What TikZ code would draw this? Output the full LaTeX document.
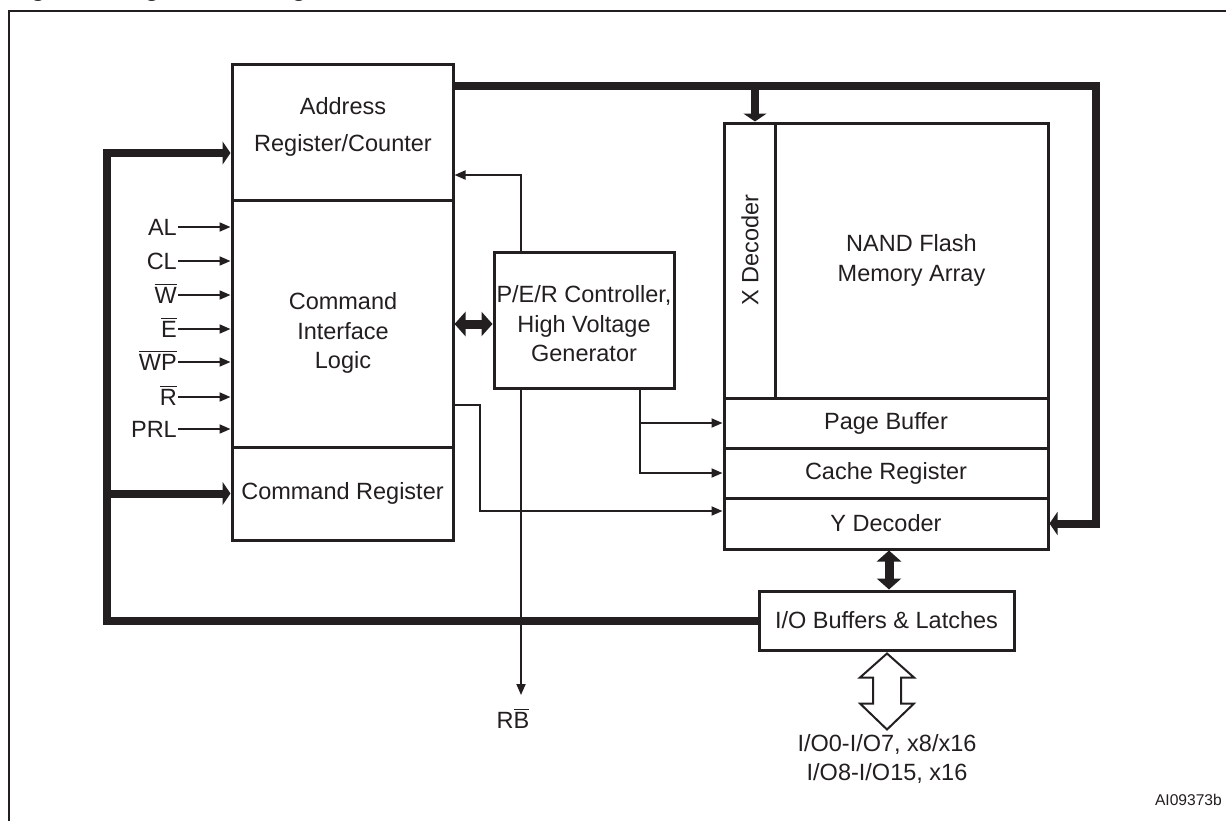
\documentclass[tikz,border=0pt]{standalone}
\usepackage{fontspec}
\setmainfont{Liberation Sans}
\usetikzlibrary{arrows.meta,calc}
\definecolor{ink}{HTML}{231F20}
\newcommand{\obar}[1]{\vbox{\hrule height 1.3pt\kern 2.2pt\hbox{#1}}}
\begin{document}
\begin{tikzpicture}[x=1pt,y=-1pt,
  font=\fontsize{23.5}{29.5}\selectfont,
  every node/.style={text=ink},
  box/.style={draw=ink, line width=3pt, inner sep=0pt, align=center},
  thinarr/.style={draw=ink, line width=1.8pt, -{Triangle[length=11pt,width=9pt]}},
  bus/.style={draw=ink, line width=8pt, line join=miter},
  busarr/.style={bus, -{Triangle[length=8pt,width=23pt]}},
  dblarr/.style={draw=ink, line width=9pt, {Triangle[length=11pt,width=24pt]}-{Triangle[length=11pt,width=24pt]}},
  lbl/.style={inner sep=1pt, text height=17pt, text depth=0pt},
  hollow/.style={draw=ink, line width=2pt, fill=white, line join=miter},
]
\useasboundingbox (0,0) rectangle (1226,820);
\fill[white] (0,0) rectangle (1226,820);

% caption (cut by the page edge, as in the reference)
\node[anchor=base west, font=\fontsize{23.4}{28}\selectfont\bfseries, inner sep=0pt] (cap) at (10,-4) {Figure 2. Logic Block Diagram};

% frame
\draw[ink, line width=2.7pt] (1240,11) -- (9,11) -- (9,830);

% boxes
\node[box, minimum width=221pt, minimum height=136pt] (addr) at (342.5,132) {};
\node[box, minimum width=221pt, minimum height=247pt] (cil) at (342.5,323.5) {};
\node[box, minimum width=221pt, minimum height=93pt] (cmd) at (342.5,493.5) {Command Register};
\node[box, minimum width=180pt, minimum height=136pt] (per) at (584,320) {};
\node[box, minimum width=51pt, minimum height=275pt] (xdec) at (749.5,260.5) {};
\node[box, minimum width=273pt, minimum height=275pt] (nand) at (911.5,260.5) {NAND Flash\\Memory Array};
\node[box, minimum width=324pt, minimum height=50pt] (pb) at (886,423) {Page Buffer};
\node[box, minimum width=324pt, minimum height=50pt] (cr) at (886,473) {Cache Register};
\node[box, minimum width=324pt, minimum height=51pt] (yd) at (886,523.5) {Y Decoder};
\node[box, minimum width=255pt, minimum height=59pt] (io) at (886.5,620.5) {I/O Buffers \& Latches};

% box texts
\node[align=center] (addrt) at (343,127) {Address\\[7.5pt]Register/Counter};
\node[align=center] (cilt) at (343,333) {Command\\Interface\\Logic};
\node[align=center] (pert) at (584,324) {P/E/R Controller,\\High Voltage\\Generator};
\node[rotate=90] (xdt) at (750,250) {X Decoder};

% control inputs
\foreach \n/\t/\y in {al/AL/227, cl/CL/261, w/\obar{W}/295, e/\obar{E}/329, wp/\obar{WP}/362, r/\obar{R}/397, prl/PRL/429}{
  \node[lbl, anchor=east] (in-\n) at (178,\y) {\t};
  \draw[thinarr] (in-\n.east) -- (in-\n.east -| cil.west);
}

% left bus
\coordinate (lbt) at (107,153);
\coordinate (lbc) at (107,493.5);
\draw[busarr] (io.west) -- (io.west -| lbt) -- (lbt) -- (lbt -| addr.west);
\draw[busarr] (lbc) -- (lbc -| cmd.west);

% top / right bus
\coordinate (tbr) at (1096,86);
\coordinate (xb) at (755,86);
\draw[busarr] (tbr -| addr.east) -- (tbr) -- (tbr |- yd.east) -- (yd.east);
\draw[busarr] (xb) -- (xb |- xdec.north);

% thin signals
\coordinate (va) at (521,175);
\draw[thinarr] (va |- per.north) -- (va) -- (va -| addr.east);
\coordinate (rbt) at (521,695);
\draw[thinarr] (va |- per.south) -- (rbt);
\node[lbl] (rbl) at (513,720) {R\obar{B}};

\coordinate (vb) at (640,0);
\draw[thinarr] (vb |- per.south) -- (vb |- cr.west) -- (cr.west);
\draw[thinarr] (vb |- pb.west) -- (pb.west);

\coordinate (vc) at (480,405);
\coordinate (vd) at (480,511);
\draw[thinarr] (vc -| cil.east) -- (vc) -- (vd) -- (vd -| yd.west);

% double arrows
\coordinate (da) at (0,324);
\draw[dblarr] (da -| cil.east) -- (da -| per.west);
\coordinate (dy) at (889,0);
\draw[dblarr] (dy |- yd.south) -- (dy |- io.north);

% hollow I/O arrow
\draw[hollow] ($(io.south)+(0.5,2)$) -- ++(-27,24) -- ++(13,0) -- ++(0,26) -- ++(-13,0) -- ++(27,26) -- ++(27,-26) -- ++(-13,0) -- ++(0,-26) -- ++(13,0) -- cycle;
\node[align=center] (iol) at (887,759) {I/O0-I/O7, x8/x16\\I/O8-I/O15, x16};

\node[anchor=east, font=\fontsize{15.6}{18}\selectfont, inner sep=0pt] (refid) at (1222,800) {AI09373b};
\end{tikzpicture}
\end{document}
